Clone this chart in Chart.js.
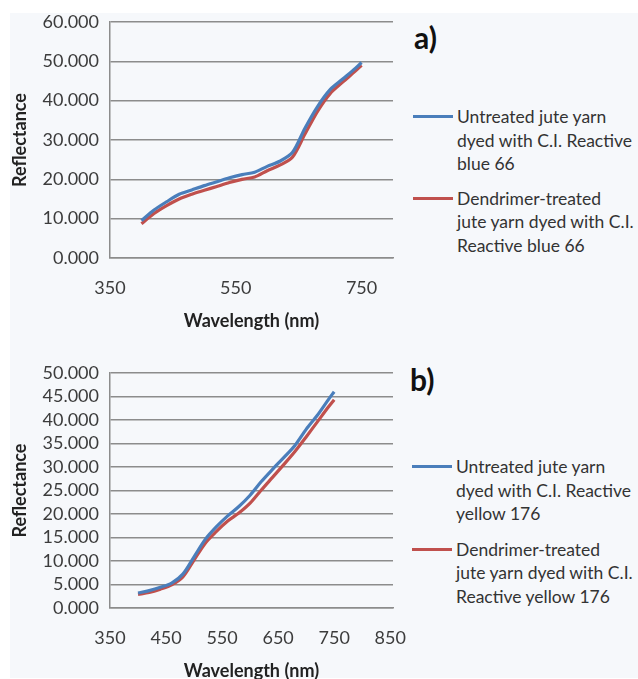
<!DOCTYPE html>
<html>
<head>
    <title>Reflectance spectra of dyed jute yarn</title>
    <script src="https://cdn.jsdelivr.net/npm/chart.js"></script>
    <style>
        body { margin: 0; background: #ffffff; overflow: hidden; }
        #page { position: absolute; left: 10px; top: 13px; width: 628px; height: 665px; background: #f6f8fb; }
        .panel { position: absolute; left: 0; }
        .tag { position: absolute; font: bold 30px Lato, sans-serif; color: #111; line-height: 36px; }
        .legend { position: absolute; font: 17.5px Lato, sans-serif; color: #333; line-height: 23.5px; }
        .item { position: relative; padding-left: 44px; white-space: nowrap; }
        .item .swatch { position: absolute; left: 0; top: 10px; width: 40px; height: 3px; }
    </style>
</head>
<body>
    <div id="page"></div>
    <div class="panel" style="top:0;width:410px;height:335px"><canvas id="chartA"></canvas></div>
    <div class="panel" style="top:340px;width:410px;height:345px"><canvas id="chartB"></canvas></div>

    <div class="tag" style="left:414px;top:19px">a)</div>
    <div class="legend" style="left:413px;top:105px">
        <div class="item" style="margin-bottom:11px"><span class="swatch" style="background:#4a7ebb"></span>Untreated jute yarn<br>dyed with C.I. Reactive<br>blue 66</div>
        <div class="item"><span class="swatch" style="background:#c0504d"></span>Dendrimer-treated<br>jute yarn dyed with C.I.<br>Reactive blue 66</div>
    </div>

    <div class="tag" style="left:410px;top:361px">b)</div>
    <div class="legend" style="left:412px;top:455px">
        <div class="item" style="margin-bottom:12px"><span class="swatch" style="background:#4a7ebb"></span>Untreated jute yarn<br>dyed with C.I. Reactive<br>yellow 176</div>
        <div class="item"><span class="swatch" style="background:#c0504d"></span>Dendrimer-treated<br>jute yarn dyed with C.I.<br>Reactive yellow 176</div>
    </div>

    <script>
        // wavelengths (nm) shared by both panels
        var wavelengths = [400, 420, 440, 460, 480, 500, 520, 540, 560, 580, 600, 620, 640, 660, 680, 700, 720, 740, 750];

        // a) C.I. Reactive blue 66
        var blueUntreated = [9.5, 12.2, 14.3, 16.2, 17.3, 18.4, 19.4, 20.4, 21.2, 21.8, 23.3, 24.6, 26.8, 33.0, 38.5, 42.8, 45.5, 48.2, 49.7];
        var blueDendrimer = [8.7, 11.3, 13.3, 15.0, 16.2, 17.2, 18.2, 19.2, 20.0, 20.6, 22.2, 23.6, 25.6, 31.5, 37.3, 41.8, 44.7, 47.5, 49.0];

        // b) C.I. Reactive yellow 176
        var yellowUntreated = [3.2, 3.7, 4.4, 5.3, 7.2, 10.9, 14.6, 17.3, 19.6, 21.6, 24.0, 26.9, 29.5, 32.0, 34.6, 38.0, 41.0, 44.4, 46.0];
        var yellowDendrimer = [2.9, 3.3, 4.0, 4.9, 6.6, 10.2, 13.8, 16.3, 18.5, 20.2, 22.3, 25.1, 27.8, 30.5, 33.3, 36.4, 39.6, 42.8, 44.3];

        // axis ticks
        var xTicksA = [350, 550, 750];
        var xTicksB = [350, 450, 550, 650, 750, 850];

        var BLUE = '#4a7ebb';
        var RED = '#c0504d';
        var GRID = '#8c8c8c';

        function toPoints(values) {
            return values.map(function (v, i) { return { x: wavelengths[i], y: v }; });
        }

        function createChart(id, untreated, dendrimer, xTicks, xMax, yMax, yStep, topPad) {
            var ctx = document.getElementById(id).getContext('2d');
            return new Chart(ctx, {
                type: 'line',
                data: {
                    datasets: [{
                        data: toPoints(untreated),
                        borderColor: BLUE,
                        borderWidth: 3.2,
                        pointRadius: 0,
                        tension: 0.3
                    }, {
                        data: toPoints(dendrimer),
                        borderColor: RED,
                        borderWidth: 3.2,
                        pointRadius: 0,
                        tension: 0.3
                    }]
                },
                options: {
                    responsive: true,
                    maintainAspectRatio: false,
                    animation: false,
                    layout: { padding: { top: topPad, right: 17, left: 0, bottom: 0 } },
                    plugins: { legend: { display: false }, tooltip: { enabled: false } },
                    scales: {
                        x: {
                            type: 'linear',
                            min: 350,
                            max: xMax,
                            afterBuildTicks: function (scale) {
                                scale.ticks = xTicks.map(function (v) { return { value: v }; });
                            },
                            afterFit: function (scale) {
                                scale.height = 77;
                                scale.paddingLeft = 0;
                                scale.paddingRight = 0;
                            },
                            grid: { display: false, drawTicks: false },
                            border: { display: true, color: GRID, width: 1.5 },
                            ticks: {
                                padding: 19,
                                color: '#3c3c3c',
                                font: { family: 'Lato', size: 18 },
                                maxRotation: 0,
                                autoSkip: false
                            },
                            title: {
                                display: true,
                                text: 'Wavelength (nm)',
                                color: '#222',
                                font: { family: 'Lato', size: 18, weight: 'bold' },
                                padding: { top: 0, bottom: 3 }
                            }
                        },
                        y: {
                            min: 0,
                            max: yMax,
                            afterFit: function (scale) {
                                scale.width = 110;
                                scale.paddingTop = 0;
                            },
                            grid: { color: GRID, lineWidth: 1.5, drawTicks: false },
                            border: { display: true, color: GRID, width: 1.5 },
                            ticks: {
                                stepSize: yStep,
                                padding: 11,
                                autoSkip: false,
                                color: '#3c3c3c',
                                font: { family: 'Lato', size: 18 },
                                callback: function (v) { return v.toFixed(3); }
                            },
                            title: {
                                display: true,
                                text: 'Reflectance',
                                color: '#222',
                                font: { family: 'Lato', size: 18, weight: 'bold' },
                                padding: { top: 9, bottom: 0 }
                            }
                        }
                    }
                }
            });
        }

        createChart('chartA', blueUntreated, blueDendrimer, xTicksA, 800, 60, 10, 22);
        createChart('chartB', yellowUntreated, yellowDendrimer, xTicksB, 855, 50, 5, 33);
    </script>
</body>
</html>
